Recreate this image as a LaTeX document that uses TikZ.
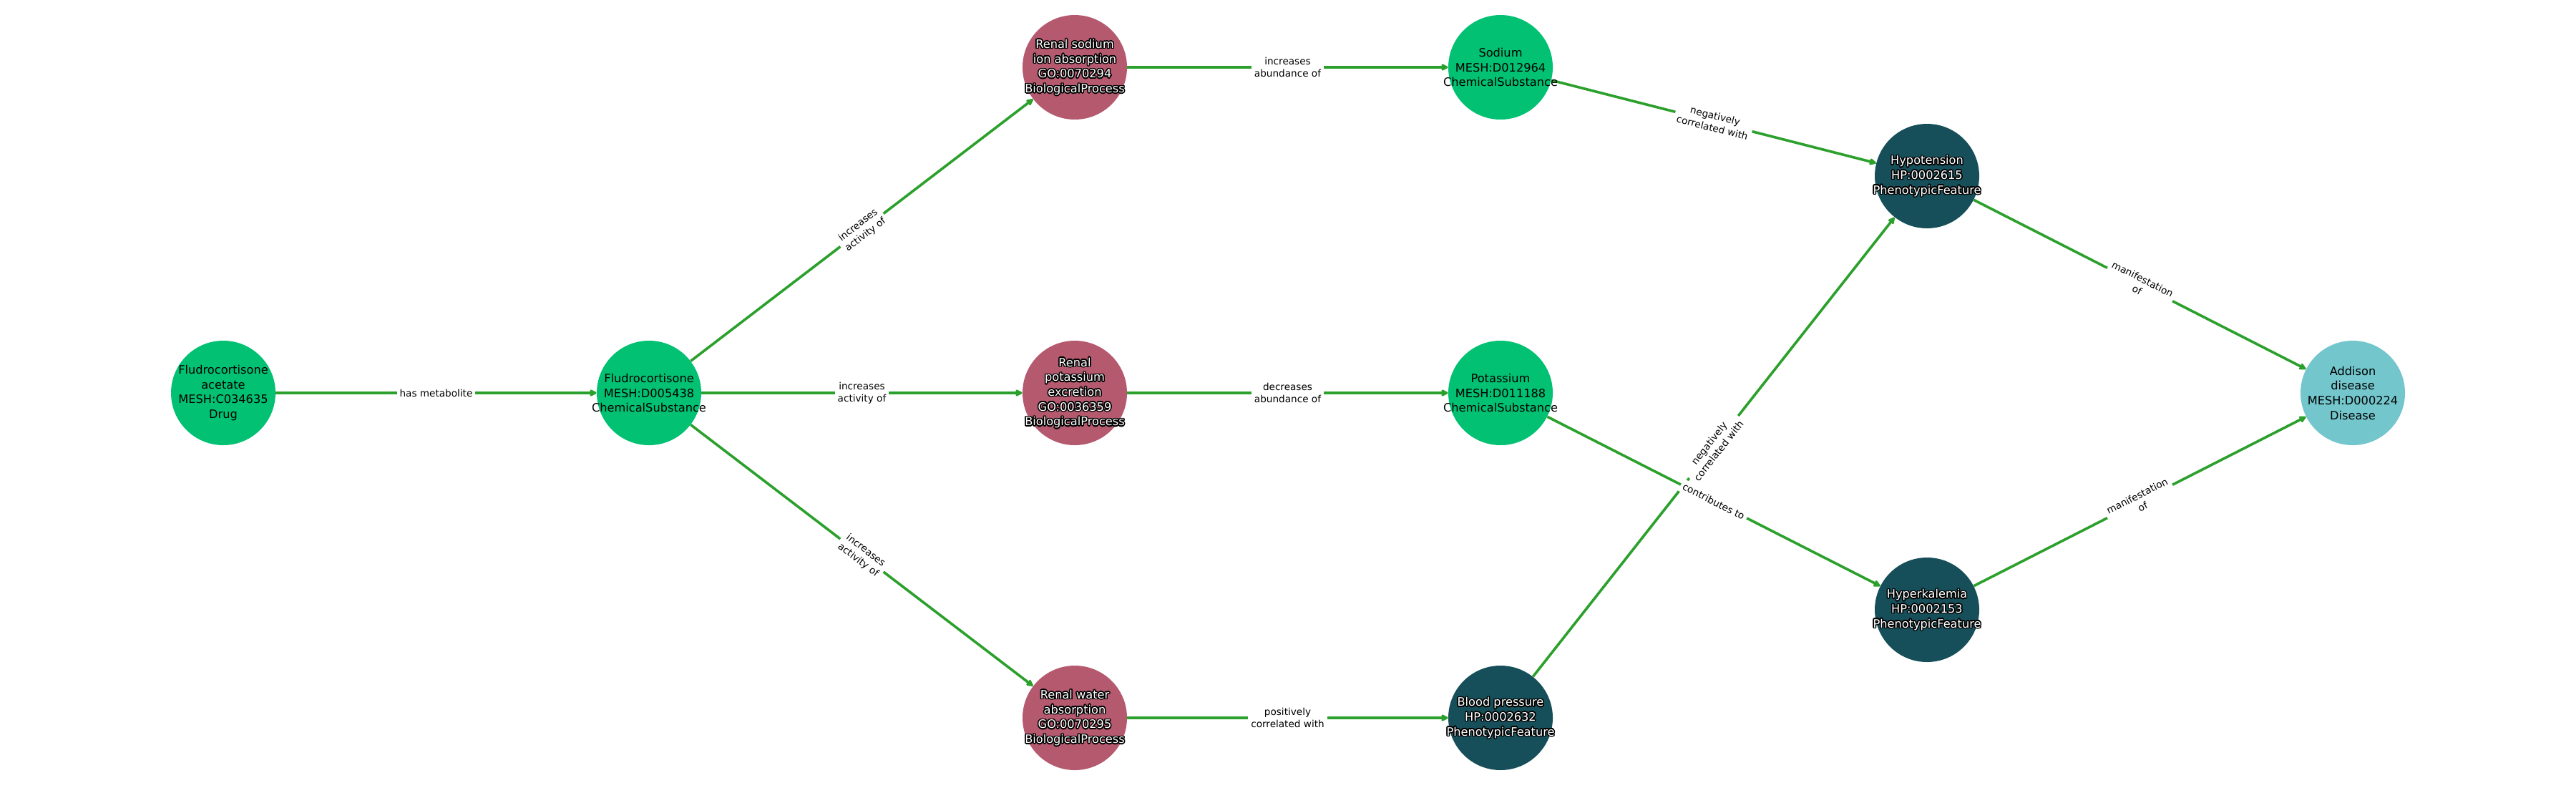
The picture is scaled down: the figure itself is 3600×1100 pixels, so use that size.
\documentclass[tikz,border=0pt]{standalone}
\usepackage{fontspec}
\setmainfont{DejaVu Sans}
\usetikzlibrary{arrows.meta}
\definecolor{cgreen}{HTML}{02C172}
\definecolor{cpink}{HTML}{B5596F}
\definecolor{cdark}{HTML}{164F59}
\definecolor{clight}{HTML}{72C6CC}
\definecolor{cedge}{HTML}{2CA02C}
\tikzset{
  ent/.style={circle, minimum size=73pt, inner sep=0pt, draw=none},
  ntext/.style={align=center, font=\fontsize{8.1}{10.35}\selectfont, inner sep=0pt},
  edge/.style={draw=cedge, line width=1.8pt, -{Triangle[length=5.5pt,width=5pt,round]}},
  elabel/.style={fill=white, align=center, font=\fontsize{6.8}{8.5}\selectfont, inner sep=2pt, sloped, midway, text=black}
}
\newcommand{\otext}[3]{%
  \foreach \a in {0,22.5,...,337.5}{\node[ntext,text=black] at ([shift={(\a:0.75pt)}]#2.center) {#3};}
  \node[ntext,text=white] (#1) at (#2.center) {#3};
}
\begin{document}
\begin{tikzpicture}[x=0.5pt,y=0.5pt]
\useasboundingbox[fill=white] (0,0) rectangle (3600,-1100);
% nodes
\node[ent, fill=cgreen] (FA) at (312,-549) {};
\node[ent, fill=cgreen] (F) at (907,-549) {};
\node[ent, fill=cpink] (RS) at (1502,-94) {};
\node[ent, fill=cpink] (RP) at (1502,-549) {};
\node[ent, fill=cpink] (RW) at (1502,-1003) {};
\node[ent, fill=cgreen] (Na) at (2097,-94) {};
\node[ent, fill=cgreen] (K) at (2097,-549) {};
\node[ent, fill=cdark] (BP) at (2097,-1003) {};
\node[ent, fill=cdark] (Hypo) at (2693,-246) {};
\node[ent, fill=cdark] (Hyper) at (2693,-852) {};
\node[ent, fill=clight] (Add) at (3288,-549) {};
% edges
\draw[edge] (FA) -- node[elabel]{has metabolite} (F);
\draw[edge] (F) -- node[elabel]{increases\\activity of} (RS);
\draw[edge] (F) -- node[elabel]{increases\\activity of} (RP);
\draw[edge] (F) -- node[elabel]{increases\\activity of} (RW);
\draw[edge] (RS) -- node[elabel]{increases\\abundance of} (Na);
\draw[edge] (RP) -- node[elabel]{decreases\\abundance of} (K);
\draw[edge] (RW) -- node[elabel]{positively\\correlated with} (BP);
\draw[edge] (Na) -- node[elabel]{negatively\\correlated with} (Hypo);
\draw[edge] (BP) -- node[elabel]{negatively\\correlated with} (Hypo);
\draw[edge] (K) -- node[elabel]{contributes to} (Hyper);
\draw[edge] (Hypo) -- node[elabel]{manifestation\\of} (Add);
\draw[edge] (Hyper) -- node[elabel]{manifestation\\of} (Add);
% node texts
\node[ntext] (FAt) at (FA.center) {Fludrocortisone\\acetate\\MESH:C034635\\Drug};
\node[ntext] (Ft) at (F.center) {Fludrocortisone\\MESH:D005438\\ChemicalSubstance};
\otext{RSt}{RS}{Renal sodium\\ion absorption\\GO:0070294\\BiologicalProcess}
\otext{RPt}{RP}{Renal\\potassium\\excretion\\GO:0036359\\BiologicalProcess}
\otext{RWt}{RW}{Renal water\\absorption\\GO:0070295\\BiologicalProcess}
\node[ntext] (Nat) at (Na.center) {Sodium\\MESH:D012964\\ChemicalSubstance};
\node[ntext] (Kt) at (K.center) {Potassium\\MESH:D011188\\ChemicalSubstance};
\otext{BPt}{BP}{Blood pressure\\HP:0002632\\PhenotypicFeature}
\otext{Hypot}{Hypo}{Hypotension\\HP:0002615\\PhenotypicFeature}
\otext{Hypert}{Hyper}{Hyperkalemia\\HP:0002153\\PhenotypicFeature}
\node[ntext] (Addt) at (Add.center) {Addison\\disease\\MESH:D000224\\Disease};
\end{tikzpicture}
\end{document}
